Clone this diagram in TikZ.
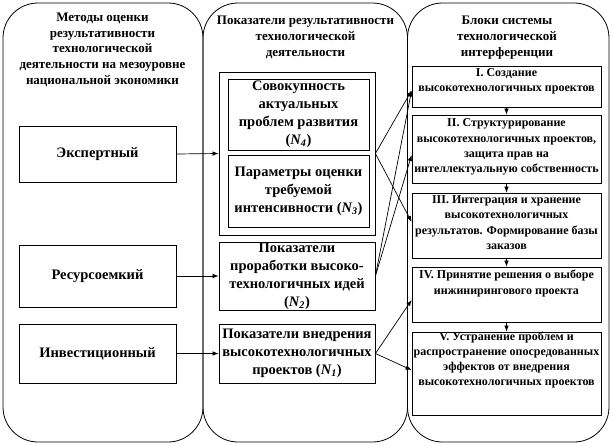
\documentclass[tikz,border=0pt]{standalone}
\usepackage{fontspec}
\setmainfont{Liberation Serif}
\usetikzlibrary{arrows.meta}
\begin{document}
\begin{tikzpicture}[x=1pt,y=-1pt,
  col/.style={draw, line width=0.8pt, rounded corners=35pt, inner sep=0},
  box/.style={draw, line width=0.8pt, inner sep=0, align=center},
  ttl/.style={align=center, inner sep=0, font=\bfseries\fontsize{13}{15.7}\selectfont},
  ltxt/.style={font=\bfseries\fontsize{14.5}{18}\selectfont},
  mtxt/.style={font=\bfseries\fontsize{14.5}{18}\selectfont},
  rtxt/.style={align=center, inner sep=0, font=\bfseries\fontsize{12}{15.3}\selectfont},
  arr/.style={-{Latex[length=6pt,width=4.5pt]}, line width=0.7pt}
]
\useasboundingbox (0,0) rectangle (613,445);
% columns
\node[col, minimum width=200pt, minimum height=439pt] (colL) at (103,222.5) {};
\node[col, minimum width=204.5pt, minimum height=439pt] (colM) at (305.25,222.5) {};
\node[col, minimum width=201.5pt, minimum height=439pt] (colR) at (508.25,222.5) {};
% titles
\node[ttl] (tL) at (102.5,49.6) {Методы оценки\\результативности\\технологической\\деятельности на мезоуровне\\национальной экономики};
\node[ttl] (tM) at (305.5,37.5) {Показатели результативности\\технологической\\деятельности};
\node[ttl] (tR) at (507,37.5) {Блоки системы\\технологической\\интерференции};
% left boxes
\node[box, ltxt, minimum width=157pt, minimum height=56pt] (exp) at (97.5,154) {Экспертный};
\node[box, ltxt, minimum width=157pt, minimum height=62pt] (res) at (97.5,276) {Ресурсоемкий};
\node[box, ltxt, minimum width=157pt, minimum height=59pt] (inv) at (97.5,353.5) {Инвестиционный};
% middle boxes
\node[box, minimum width=156pt, minimum height=163pt] (outer) at (297,153.5) {};
\node[box, mtxt, minimum width=141pt, minimum height=71pt] (n4) at (298.5,114.5) {Совокупность\\актуальных\\проблем развития\\({\itshape N}\textsubscript{\itshape 4})};
\node[box, mtxt, minimum width=141pt, minimum height=72pt] (n3) at (298.5,191) {Параметры оценки\\требуемой\\интенсивности ({\itshape N}\textsubscript{\itshape 3})};
\node[box, mtxt, minimum width=156pt, minimum height=68pt] (n2) at (297,276) {Показатели\\проработки высоко-\\технологичных идей\\({\itshape N}\textsubscript{\itshape 2})};
\node[box, mtxt, minimum width=156pt, minimum height=59pt] (n1) at (297,353.5) {Показатели внедрения\\высокотехнологичных\\проектов ({\itshape N}\textsubscript{\itshape 1})};
% right boxes
\node[box, minimum width=189pt, minimum height=41pt] (b1) at (506.5,86.5) {};
\node[box, minimum width=189pt, minimum height=68pt] (b2) at (506.5,149) {};
\node[box, minimum width=189pt, minimum height=65pt] (b3) at (506.5,225.5) {};
\node[box, minimum width=189pt, minimum height=55pt] (b4) at (506.5,294.5) {};
\node[box, minimum width=189pt, minimum height=83pt] (b5) at (506.5,373.5) {};
\node[rtxt] (t1) at (506.5,81.5) {I. Создание\\высокотехнологичных проектов};
\node[rtxt] (t2) at (506.5,147) {II. Структурирование\\высокотехнологичных проектов,\\защита прав на\\интеллектуальную собственность};
\node[rtxt] (t3) at (506.5,222.5) {III. Интеграция и хранение\\высокотехнологичных\\результатов. Формирование базы\\заказов};
\node[rtxt] (t4) at (506.5,283.5) {IV. Принятие решения о выборе\\инжинирингового проекта};
\node[rtxt] (t5) at (506.5,360) {V. Устранение проблем и\\распространение опосредованных\\эффектов от внедрения\\высокотехнологичных проектов};
% left to middle
\draw[arr] (exp.east) -- (outer.west);
\draw[arr] (res.east) -- (n2.west);
\draw[arr] (inv.east) -- (n1.west);
% middle to right
\draw[arr] (outer.east) -- ([yshift=-4pt]b1.west);
\draw[arr] (outer.east) -- ([yshift=3.5pt]b3.west);
\draw[arr] (n2.east) -- ([yshift=-4pt]b1.west);
\draw[arr] (n2.east) -- ([yshift=-6pt]b2.west);
\draw[arr] (n1.east) -- ([yshift=-5.5pt]b4.west);
\draw[arr] (n1.east) -- ([yshift=3.5pt]b5.west);
% right chain
\draw[arr] (b1.south) -- (b2.north);
\draw[arr] (b2.south) -- (b3.north);
\draw[arr] (b3.south) -- (b4.north);
\draw[arr] (b4.south) -- (b5.north);
\end{tikzpicture}
\end{document}
